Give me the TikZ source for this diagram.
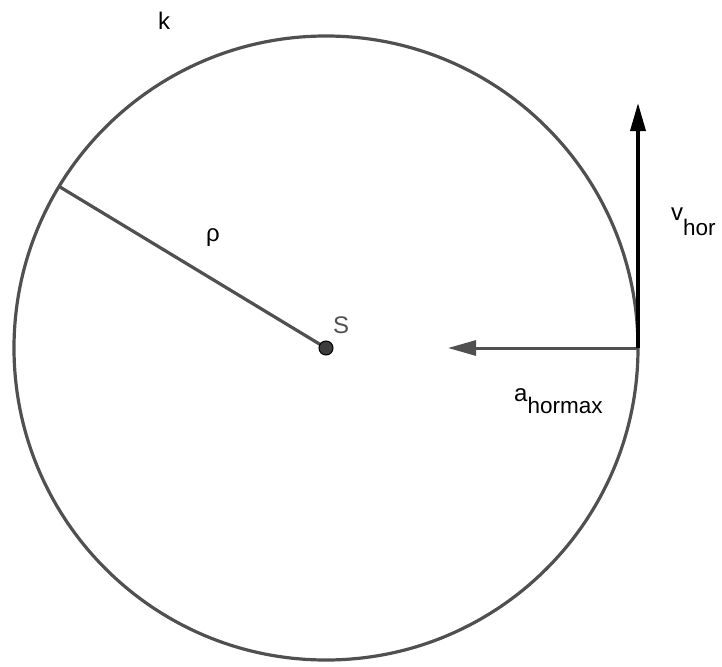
\documentclass[tikz,border=0pt]{standalone}
\usepackage{fontspec}
\setmainfont{Liberation Sans}
\usetikzlibrary{arrows.meta}
\definecolor{linegray}{RGB}{80,80,80}
\definecolor{dotgray}{RGB}{60,60,60}
\tikzset{
  lbl/.style={inner sep=0pt,anchor=base west,font=\fontsize{24}{28}\selectfont},
  vec/.style={line width=3pt,-{Triangle[length=28pt,width=15pt]}}
}
\begin{document}
\begin{tikzpicture}[x=1pt,y=-1pt]
\useasboundingbox (0,0) rectangle (722,666);
\coordinate (S) at (326,348);
\coordinate (R) at (60,187);
\coordinate (P) at (638,348);
\coordinate (vtip) at (638,103);
\coordinate (atip) at (448,348);
\draw[linegray,line width=3.2pt] (S) circle (312);
\draw[linegray,line width=3.2pt] (S) -- (R);
\draw[vec,linegray] (P) -- (atip);
\draw[vec,black,line width=3.5pt] (P) -- (vtip);
\fill[dotgray,draw=black,line width=1pt] (S) circle (7);
\node[lbl] (klbl) at (158,30) {k};
\node[lbl] (rholbl) at (206,241) {ρ};
\node[lbl,text=linegray] (slbl) at (333,333) {S};
\node[lbl] (vlbl) at (671,220) {v\raisebox{-15pt}{\fontsize{22.5}{26}\selectfont hor}};
\node[lbl] (albl) at (514,401) {a\raisebox{-12pt}{\fontsize{22.5}{26}\selectfont hormax}};
\end{tikzpicture}
\end{document}
